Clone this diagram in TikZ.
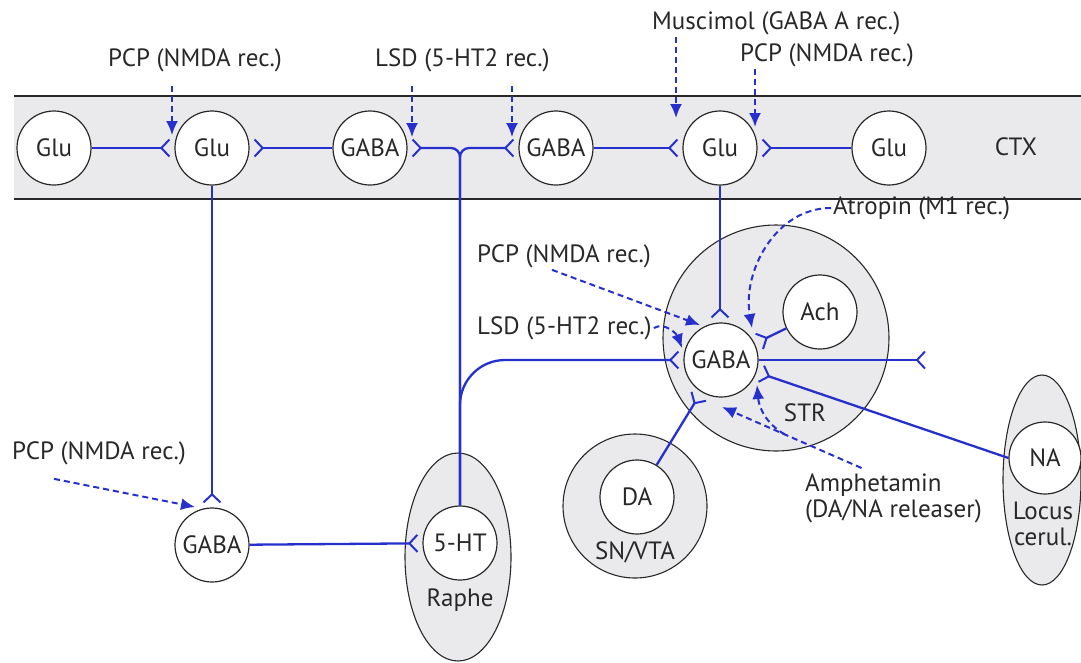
\documentclass[tikz,border=0pt]{standalone}
\usepackage{fontspec}
\setsansfont{PT Sans}
\usepackage{xcolor}
\usepackage{tikz}
\usetikzlibrary{arrows.meta, positioning, calc, shapes.geometric}
\definecolor{nrBlue}{RGB}{38,48,205}
\definecolor{nrInk}{RGB}{40,40,40}
\definecolor{nrFill}{RGB}{234,234,236}

\begin{document}
\begin{tikzpicture}[
    font=\sffamily\fontsize{25}{26}\selectfont, x=1pt, y=-1pt,
    cell/.style={circle, draw=nrInk, line width=1.2pt, fill=white,
                 minimum size=74pt, inner sep=0pt, text=nrInk},
    area/.style={draw=nrInk, line width=1.1pt, fill=nrFill, inner sep=0pt},
    syn/.style={nrBlue, line width=2.3pt, shorten >=4pt,
                -{Straight Barb[reversed, length=8pt, width=17pt, line width=2pt]}},
    drug/.style={nrBlue, line width=2pt, dash pattern=on 6pt off 4pt,
                 -{Latex[length=14pt, width=12pt]}},
    lbl/.style={text=nrInk, inner sep=2pt}
]
\useasboundingbox (0,0) rectangle (1081,662);

% Cortex band
\fill[nrFill] (14,96) rectangle (1081,199);
\draw[nrInk, line width=1.4pt] (14,96) -- (1081,96) (14,199) -- (1081,199);
\node[lbl] (ctx) at (1016,147) {CTX};

% Regions
\node[area, circle, minimum size=226pt] (str) at (776,338) {};
\node[area, circle, minimum size=144pt] (snvta) at (635,506) {};
\node[area, ellipse, minimum width=106pt, minimum height=208pt] (raphe) at (458,557) {};
\node[area, ellipse, minimum width=78pt, minimum height=210pt] (locus) at (1042,480) {};
\node[lbl] (strL) at (805,413) {STR};
\node[lbl] (snL) at (635,552) {SN/VTA};
\node[lbl] (rapheL) at (460,600) {Raphe};
\node[lbl, align=center] (locusL) at (1043,524) {Locus\\cerul.};

% Neurons
\foreach \n/\t/\x in {glu1/Glu/54, glu2/Glu/212, gabaA/GABA/370,
                      gabaB/GABA/556, glu3/Glu/720, glu4/Glu/889} {
   \node[cell] (\n) at (\x,148) {\t};
}
\node[cell] (gabaS) at (721,360) {GABA};
\node[cell] (ach)   at (820,312) {Ach};
\node[cell] (gabaL) at (212,545) {GABA};
\node[cell] (ht)    at (460,543) {5-HT};
\node[cell] (da)    at (637,497) {DA};
\node[cell, minimum size=72pt] (na) at (1045,458) {NA};

% Drug labels
\node[lbl, anchor=west] (pcpA)  at (106,60)  {PCP (NMDA rec.)};
\node[lbl, anchor=west] (lsdA)  at (373,60)  {LSD (5-HT2 rec.)};
\node[lbl, anchor=west] (muscA) at (650,23)  {Muscimol (GABA A rec.)};
\node[lbl, anchor=west] (pcpB)  at (738,55)  {PCP (NMDA rec.)};
\node[lbl, anchor=west] (atro)  at (831,208) {Atropin (M1 rec.)};
\node[lbl, anchor=west] (pcpC)  at (475,256) {PCP (NMDA rec.)};
\node[lbl, anchor=west] (lsdC)  at (475,328) {LSD (5-HT2 rec.)};
\node[lbl, anchor=west] (pcpD)  at (10,453)  {PCP (NMDA rec.)};
\node[lbl, align=left, anchor=north west] (amph) at (803,472)
     {Amphetamin\\(DA/NA releaser)};

% Axons and synapses
\draw[syn] (glu1) -- (glu2);
\draw[syn] (gabaA) -- (glu2);
\draw[syn] (gabaB) -- (glu3);
\draw[syn] (glu4) -- (glu3);
\draw[syn, rounded corners=9pt] (ht.north) |- (gabaA.east);
\draw[syn, rounded corners=9pt] (ht.north) |- (gabaB.west);
\draw[syn, rounded corners=45pt] (ht.north) |- (gabaS.west);
\draw[syn] (glu3.south) -- (glu3.south |- gabaS.north);
\draw[syn] (glu2.south) -- (glu2.south |- gabaL.north);
\draw[syn] (gabaL) -- (ht);
\draw[syn] (ach) -- (gabaS);
\draw[syn] (na.west) -- (gabaS);
\draw[syn] (da) -- (gabaS);
\coordinate (strOut) at (926,360);
\draw[syn, shorten >=0pt] (gabaS) -- (strOut);

% Drug targets
\coordinate (tPcpA)  at (172,135);
\coordinate (tLsdA)  at (412,137);
\coordinate (tLsdB)  at (512,137);
\coordinate (tMusc)  at (676,118);
\coordinate (tPcpB)  at (755,127);
\coordinate (tAtro)  at (752,328);
\coordinate (tPcpC)  at (700,325);
\coordinate (tLsdC)  at (682,348);
\coordinate (tPcpD)  at (195,507);
\coordinate (tAmphA) at (757,385);
\coordinate (tAmphB) at (722,407);
\coordinate (amphSt) at ([xshift=-32pt,yshift=4pt]amph.north);
\coordinate (amphBr) at ($(amphSt)!0.55!(tAmphB)$);

\draw[drug, shorten <=12pt] (pcpA.south -| tPcpA) -- (tPcpA);
\draw[drug, shorten <=12pt] (lsdA.south -| tLsdA) -- (tLsdA);
\draw[drug, shorten <=12pt] (lsdA.south -| tLsdB) -- (tLsdB);
\draw[drug] (muscA.south -| tMusc) -- (tMusc);
\draw[drug] (pcpB.south -| tPcpB) -- (tPcpB);
\draw[drug] (atro.west) to[out=180, in=100] (tAtro);
\draw[drug] ([xshift=-12pt]pcpC.south) -- (tPcpC);
\draw[drug] (lsdC.east) to[out=30, in=110] (tLsdC);
\draw[drug] ([xshift=-45pt,yshift=-12pt]pcpD.south) -- (tPcpD);
\draw[drug] (amphSt) -- (tAmphB);
\draw[drug] (amphBr) to[out=150, in=-85] (tAmphA);
\end{tikzpicture}
\end{document}
